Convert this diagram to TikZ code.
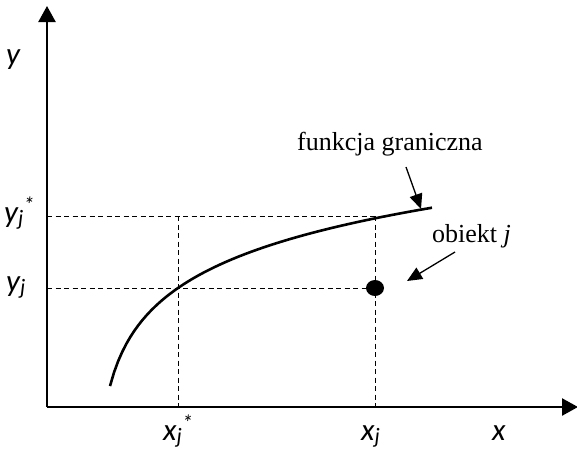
\documentclass[tikz,border=0pt]{standalone}
\usepackage{fontspec}
\setmainfont{Liberation Serif}
\newfontfamily\lab{Carlito}
\usetikzlibrary{arrows.meta}
\newcommand{\subj}{\raisebox{-3pt}{\fontsize{22}{22}\selectfont j}}
\newcommand{\starsup}{\raisebox{10pt}{\fontsize{22}{22}\selectfont *}}
\begin{document}
\begin{tikzpicture}[x=1pt,y=-1pt,
  axis/.style={line width=2.4pt,-{Triangle[length=16pt,width=17pt]}},
  guide/.style={line width=0.8pt,dash pattern=on 5pt off 3.5pt},
  pointer/.style={line width=1.3pt,-{Triangle[length=15pt,width=13pt]}},
  lbl/.style={font=\lab\itshape\fontsize{31}{33}\selectfont,inner sep=0pt,anchor=base west},
  txt/.style={font=\fontsize{26}{28}\selectfont,inner sep=0pt,anchor=base west}]
\useasboundingbox (0,0) rectangle (577,450);
\coordinate (O) at (47,407);
\coordinate (ytip) at (47,6);
\coordinate (xtip) at (578,407);
\coordinate (ysA) at (47,216);
\coordinate (yA) at (47,288);
\coordinate (P) at (375,216);
\coordinate (Q) at (178,216);
\coordinate (xsB) at (178,411);
\coordinate (xB) at (375,411);
\node[inner sep=0pt] (dot) at (375,288) {};
\fill (375,288) ellipse (9pt and 8pt);
\draw[guide] (ysA) -- (P);
\draw[guide] (yA) -- (dot);
\draw[guide] (Q) -- (xsB);
\draw[guide] (P) -- (xB);
\draw[line width=2.6pt] plot[domain=110:432,samples=80] ({\x},{541.2-57.3*ln(\x-95)});
\draw[axis] (O) -- (ytip);
\draw[axis] (O) -- (xtip);
\node[lbl] (ly) at (6,64) {y};
\node[lbl] (lys) at (4,222) {y\subj\starsup};
\node[lbl] (lyj) at (6,291) {y\subj};
\node[lbl] (lxs) at (163,440) {x\subj\starsup};
\node[lbl] (lxj) at (361,440) {x\subj};
\node[lbl] (lx) at (492,440) {x};
\node[txt] (fg) at (297,150) {funkcja graniczna};
\node[txt] (ob) at (432,242) {obiekt \textit{j}};
\coordinate (a1s) at (406,167);
\coordinate (a1e) at (421,209);
\coordinate (a2s) at (455,252);
\coordinate (a2e) at (407,281);
\draw[pointer] (a1s) -- (a1e);
\draw[pointer] (a2s) -- (a2e);
\end{tikzpicture}
\end{document}
